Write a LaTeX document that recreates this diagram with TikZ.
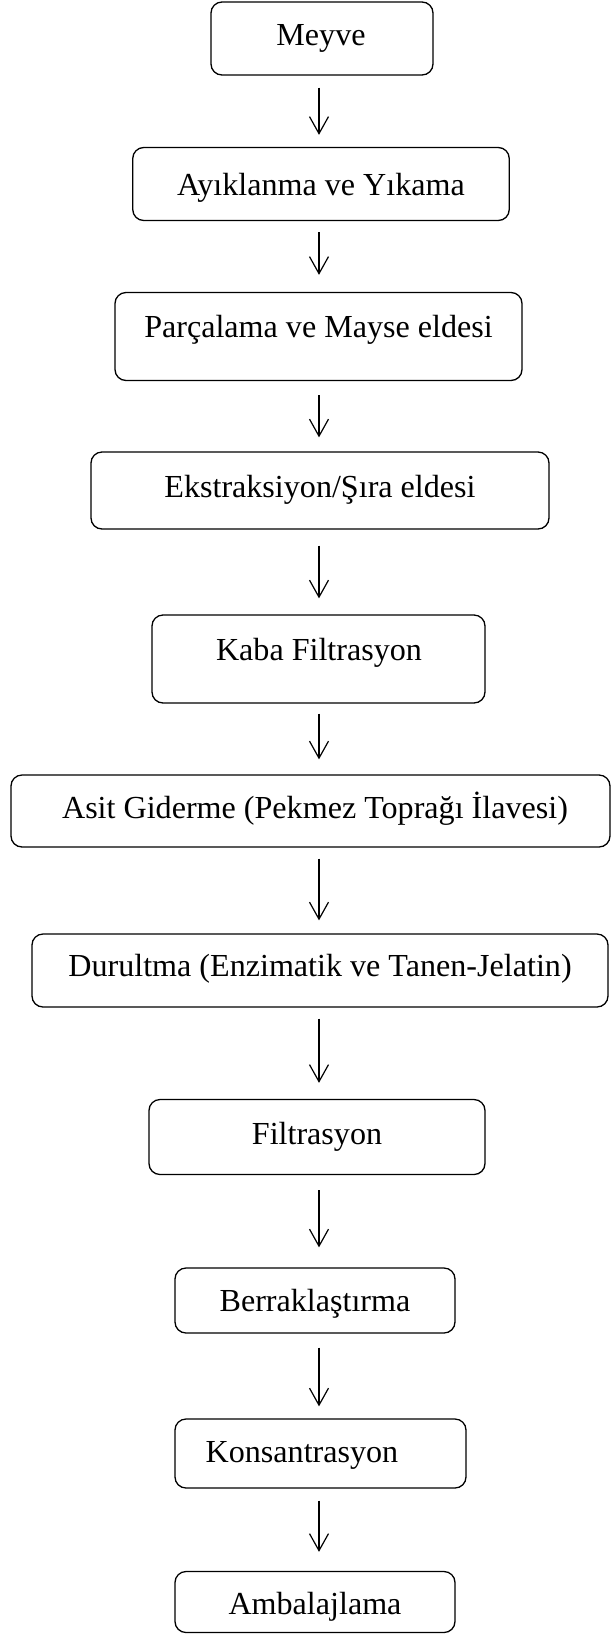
\documentclass[tikz,border=0pt]{standalone}
\usepackage{fontspec}
\setmainfont{Liberation Serif}
\usetikzlibrary{arrows.meta}
\begin{document}
\begin{tikzpicture}[x=1pt,y=-1pt,
  stepbox/.style={draw,line width=1.3pt,rounded corners=11pt,inner sep=0pt},
  lbl/.style={anchor=base,inner sep=0pt,font=\fontsize{32.1pt}{36pt}\selectfont},
  arr/.style={line width=1.2pt,-{Straight Barb[length=17pt,width=19pt]}}]
\useasboundingbox (0,0) rectangle (611,1634);
\coordinate (ax) at (319,0);
\node[stepbox,minimum width=222pt,minimum height=73pt] (m1) at (322,38.5) {};
\node[stepbox,minimum width=376.5pt,minimum height=73pt] (m2) at (321,184) {};
\node[stepbox,minimum width=407pt,minimum height=88pt] (m3) at (318.5,336.5) {};
\node[stepbox,minimum width=458pt,minimum height=77pt] (m4) at (320,490.5) {};
\node[stepbox,minimum width=333pt,minimum height=88pt] (m5) at (318.5,659) {};
\node[stepbox,minimum width=599pt,minimum height=72pt] (m6) at (310.5,811) {};
\node[stepbox,minimum width=576pt,minimum height=73pt] (m7) at (320,970.5) {};
\node[stepbox,minimum width=336pt,minimum height=75pt] (m8) at (317,1137) {};
\node[stepbox,minimum width=280pt,minimum height=65pt] (m9) at (315,1300.5) {};
\node[stepbox,minimum width=291pt,minimum height=69pt] (m10) at (320.5,1453.5) {};
\node[stepbox,minimum width=280pt,minimum height=61pt] (m11) at (315,1602) {};
\node[lbl] (t1) at (321,45.5) {Meyve};
\node[lbl] (t2) at (321,195) {Ayıklanma ve Yıkama};
\node[lbl] (t3) at (318.5,337) {Parçalama ve Mayse eldesi};
\node[lbl] (t4) at (320,497) {Ekstraksiyon/Şıra eldesi};
\node[lbl] (t5) at (319,660.5) {Kaba Filtrasyon};
\node[lbl] (t6) at (315,818.5) {Asit Giderme (Pekmez Toprağı İlavesi)};
\node[lbl] (t7) at (320,976.5) {Durultma (Enzimatik ve Tanen-Jelatin)};
\node[lbl] (t8) at (317,1144) {Filtrasyon};
\node[lbl] (t9) at (315,1311) {Berraklaştırma};
\node[lbl] (t10) at (302,1462.5) {Konsantrasyon};
\node[lbl] (t11) at (315,1614.5) {Ambalajlama};
\draw[arr,shorten <=12pt,shorten >=12pt] (m1.south -| ax) -- (m2.north -| ax);
\draw[arr,shorten <=11pt,shorten >=17pt] (m2.south -| ax) -- (m3.north -| ax);
\draw[arr,shorten <=14pt,shorten >=14pt] (m3.south -| ax) -- (m4.north -| ax);
\draw[arr,shorten <=16pt,shorten >=16pt] (m4.south -| ax) -- (m5.north -| ax);
\draw[arr,shorten <=10pt,shorten >=15pt] (m5.south -| ax) -- (m6.north -| ax);
\draw[arr,shorten <=11pt,shorten >=13pt] (m6.south -| ax) -- (m7.north -| ax);
\draw[arr,shorten <=11pt,shorten >=16pt] (m7.south -| ax) -- (m8.north -| ax);
\draw[arr,shorten <=15pt,shorten >=20pt] (m8.south -| ax) -- (m9.north -| ax);
\draw[arr,shorten <=14pt,shorten >=12pt] (m9.south -| ax) -- (m10.north -| ax);
\draw[arr,shorten <=12pt,shorten >=19pt] (m10.south -| ax) -- (m11.north -| ax);
\end{tikzpicture}
\end{document}
